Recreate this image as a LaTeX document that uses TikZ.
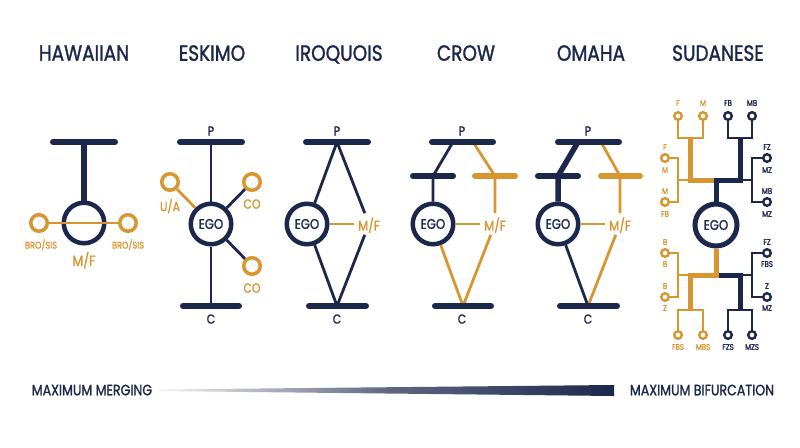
\documentclass[tikz,border=0pt]{standalone}
\usepackage{fontspec}
\setmainfont{Poppins}[FakeStretch=0.84,FakeBold=1.3]
\definecolor{navy}{RGB}{28,39,76}
\definecolor{gold}{RGB}{216,150,48}
\begin{document}
\begin{tikzpicture}[x=1pt,y=-1pt,
  bar/.style={navy,line width=6pt,line cap=round},
  obar/.style={gold,line width=6pt,line cap=round},
  nline/.style={navy,line width=2.8pt},
  oline/.style={gold,line width=2.8pt},
  nthick/.style={navy,line width=5pt},
  othick/.style={gold,line width=5pt},
  nthin/.style={navy,line width=2.5pt},
  othin/.style={gold,line width=2.5pt},
  ego/.style={circle,draw=navy,line width=4.5pt,minimum size=40.5pt,inner sep=0pt,text=navy,font=\fontsize{14}{14}\selectfont,fill=white},
  rel/.style={circle,draw=gold,line width=3.5pt,minimum size=16.5pt,inner sep=0pt,fill=white},
  srel/.style={circle,line width=2.4pt,minimum size=7.6pt,inner sep=0pt,fill=white},
  title/.style={text=navy,font=\fontsize{22}{22}\selectfont,text depth=0pt,inner sep=0pt},
  lab/.style={text=navy,font=\fontsize{13}{13}\selectfont,text depth=0pt,inner sep=0pt},
  olab/.style={text=gold,font=\fontsize{13}{13}\selectfont,text depth=0pt,inner sep=0pt},
  mf/.style={text=gold,font=\fontsize{14}{14}\selectfont,text depth=0pt,inner sep=4pt},
  slab/.style={font=\fontsize{8.3}{8.3}\selectfont,text depth=0pt,inner sep=0pt},
  legend/.style={text=navy,font=\fontsize{15}{15}\selectfont,text depth=0pt,inner sep=0pt},
]
\useasboundingbox (0,0) rectangle (800,447);
\fill[white] (0,0) rectangle (800,447);

% titles
\node[title] (t1) at (84,53) {HAWAIIAN};
\node[title] (t2) at (212,53) {ESKIMO};
\node[title] (t3) at (339,53) {IROQUOIS};
\node[title] (t4) at (466,53) {CROW};
\node[title] (t5) at (591,53) {OMAHA};
\node[title] (t6) at (718,53) {SUDANESE};

% ---------- HAWAIIAN
\coordinate (hb1) at (53,142); \coordinate (hb2) at (115,142); \coordinate (hbm) at (84,142);
\draw[bar] (hb1) -- (hb2);
\node[ego] (h) at (84,223) {};
\draw[navy,line width=5.2pt] (hbm) -- (h.north);
\node[rel] (hl) at (39,223) {};
\node[rel] (hr) at (128,223) {};
\draw[oline] (hl) -- (hr);
\node[olab,font=\fontsize{9.8}{9.8}\selectfont] (hl1) at (41,244) {BRO/SIS};
\node[olab,font=\fontsize{9.8}{9.8}\selectfont] (hl2) at (128,244) {BRO/SIS};
\node[olab,font=\fontsize{15}{15}\selectfont] (hl3) at (84,259) {M/F};

% ---------- ESKIMO
\node[lab] (ep) at (211,131) {P};
\node[lab] (ec) at (211,319) {C};
\coordinate (et1) at (180,142); \coordinate (et2) at (242,142); \coordinate (etm) at (211,142);
\coordinate (eb1) at (183,306); \coordinate (eb2) at (239,306); \coordinate (ebm) at (211,306);
\node[ego] (e) at (211,224) {EGO};
\draw[nline] (etm) -- (e.north);
\draw[nline] (e.south) -- (ebm);
\draw[bar] (et1) -- (et2);
\draw[bar] (eb1) -- (eb2);
\node[rel] (eua) at (170,182) {};
\node[rel] (eco1) at (252,182) {};
\node[rel] (eco2) at (252,266) {};
\draw[oline] (eua) -- (e);
\draw[nline] (eco1) -- (e);
\draw[nline] (eco2) -- (e);
\node[olab] (eual) at (170,205) {U/A};
\node[olab] (eco1l) at (252,204) {CO};
\node[olab] (eco2l) at (252,288) {CO};

% ---------- IROQUOIS
\node[lab] (ip) at (337,131) {P};
\node[lab] (ic) at (337,319) {C};
\coordinate (it1) at (306,142); \coordinate (it2) at (368,142); \coordinate (ita) at (337,142);
\coordinate (ib1) at (309,306); \coordinate (ib2) at (366,306); \coordinate (iba) at (337,306);
\node[ego] (i) at (307,224) {EGO};
\node[mf] (imf) at (369,224) {M/F};
\draw[nline] (ita) -- (i);
\draw[nline] (ita) -- (imf);
\draw[nline] (i) -- (iba);
\draw[nline] (imf) -- (iba);
\draw[oline] (i) -- (imf);
\draw[bar] (it1) -- (it2);
\draw[bar] (ib1) -- (ib2);

% ---------- CROW
\node[lab] (cp) at (462,131) {P};
\node[lab] (cc) at (462,319) {C};
\coordinate (ct1) at (432,142); \coordinate (ct2) at (493,142);
\coordinate (ctl) at (453,142); \coordinate (ctr) at (473,142);
\coordinate (cb1) at (435,306); \coordinate (cb2) at (491,306); \coordinate (cba) at (463,306);
\coordinate (cm1) at (413,176); \coordinate (cm2) at (453,176); \coordinate (cml) at (433,176);
\coordinate (cm3) at (475,176); \coordinate (cm4) at (515,176); \coordinate (cmr) at (495,176);
\node[ego] (c) at (433,224) {EGO};
\node[mf] (cmf) at (495,224) {M/F};
\draw[nline] (ctl) -- (cml) -- (c.north);
\draw[oline] (ctr) -- (cmr) -- (cmf);
\draw[oline] (c) -- (cmf);
\draw[oline] (c) -- (cba);
\draw[oline] (cmf) -- (cba);
\draw[bar] (ct1) -- (ct2);
\draw[bar] (cb1) -- (cb2);
\draw[bar] (cm1) -- (cm2);
\draw[obar] (cm3) -- (cm4);

% ---------- OMAHA
\node[lab] (op) at (588,131) {P};
\node[lab] (oc) at (588,319) {C};
\coordinate (ot1) at (558,142); \coordinate (ot2) at (619,142);
\coordinate (otl) at (578,142); \coordinate (otr) at (601,142);
\coordinate (ob1) at (560,306); \coordinate (ob2) at (617,306); \coordinate (oba) at (588,306);
\coordinate (om1) at (538,176); \coordinate (om2) at (578,176); \coordinate (oml) at (558,176);
\coordinate (om3) at (601,176); \coordinate (om4) at (640,176); \coordinate (omr) at (620,176);
\node[ego] (o) at (558,224) {EGO};
\node[mf] (omf) at (620,224) {M/F};
\draw[navy,line width=5.5pt] (otl) -- (oml) -- (o.north);
\draw[oline] (otr) -- (omr) -- (omf);
\draw[oline] (o) -- (omf);
\draw[nline] (o) -- (oba);
\draw[oline] (omf) -- (oba);
\draw[bar] (ot1) -- (ot2);
\draw[bar] (ob1) -- (ob2);
\draw[bar] (om1) -- (om2);
\draw[obar] (om3) -- (om4);

% ---------- SUDANESE
\node[ego,minimum size=42pt,line width=5pt] (s) at (716,225) {EGO};
% upper
\coordinate (su) at (716,180);
\coordinate (suo) at (690,180); \coordinate (suol) at (678,180);
\coordinate (sun) at (740,180); \coordinate (sunr) at (752,180);
\coordinate (sfm) at (690,138); \coordinate (sbm) at (740,138);
\node[srel,draw=gold] (sf) at (678,116) {};
\node[srel,draw=gold] (sm) at (703,116) {};
\node[srel,draw=navy] (sfb) at (728,116) {};
\node[srel,draw=navy] (smb) at (752,116) {};
\node[srel,draw=gold] (sl1) at (665,158) {};
\node[srel,draw=gold] (sl2) at (665,202) {};
\node[srel,draw=navy] (sr1) at (767,158) {};
\node[srel,draw=navy] (sr2) at (767,202) {};
\draw[othin] (sf) |- (sfm) -| (sm);
\draw[othin] (sl1) -| (suol) |- (sl2);
\draw[othin] (suol) -- (suo);
\draw[othick] (sfm) -- (suo) -- (su);
\draw[nthin] (sfb) |- (sbm) -| (smb);
\draw[nthin] (sr1) -| (sunr) |- (sr2);
\draw[nthin] (sun) -- (sunr);
\draw[nthick] (s.north) -- (su) -- (sun) -- (sbm);
% lower
\coordinate (sd) at (716,275);
\coordinate (sdo) at (690,275); \coordinate (sdol) at (678,275);
\coordinate (sdn) at (740,275); \coordinate (sdnr) at (752,275);
\coordinate (sdom) at (690,310); \coordinate (sdnm) at (740,310);
\node[srel,draw=gold] (sl3) at (665,253) {};
\node[srel,draw=gold] (sl4) at (665,297) {};
\node[srel,draw=navy] (sr3) at (767,253) {};
\node[srel,draw=navy] (sr4) at (767,297) {};
\node[srel,draw=gold] (sfbs) at (678,335) {};
\node[srel,draw=gold] (smbs) at (703,335) {};
\node[srel,draw=navy] (sfzs) at (728,335) {};
\node[srel,draw=navy] (smzs) at (752,335) {};
\draw[othin] (sl3) -| (sdol) |- (sl4);
\draw[othin] (sdol) -- (sdo);
\draw[othin] (sfbs) |- (sdom) -| (smbs);
\draw[nthin] (sr3) -| (sdnr) |- (sr4);
\draw[nthin] (sdn) -- (sdnr);
\draw[nthin] (sfzs) |- (sdnm) -| (smzs);
\draw[nthick] (sd) -- (sdn) -- (sdnm);
\draw[othick] (s.south) -- (sd) -- (sdo) -- (sdom);
% labels
\foreach \t/\x/\y/\c [count=\k] in {F/678/103/gold, M/703/103/gold, FB/728/103/navy, MB/752/103/navy,
  F/665/147/gold, M/665/170/gold, M/665/191/gold, FB/665/214/gold,
  FZ/767/147/navy, MZ/767/170/navy, MB/767/191/navy, MZ/767/214/navy,
  B/665/242/gold, B/665/264/gold, B/665/286/gold, Z/665/308/gold,
  FZ/767/242/navy, FBS/767/264/navy, Z/767/286/navy, MZ/767/308/navy,
  FBS/678/347/gold, MBS/703/347/gold, FZS/728/347/navy, MZS/752/347/navy}
  \node[slab,text=\c] (sl-\k) at (\x,\y) {\t};

% ---------- bottom scale
\node[legend] (lm) at (92,390) {MAXIMUM MERGING};
\node[legend] (lb) at (702,390) {MAXIMUM BIFURCATION};
\coordinate (w1) at (158,389.5); \coordinate (w2) at (614,385);
\coordinate (w3) at (614,396); \coordinate (w4) at (158,391);
\shade[left color=navy!5, right color=navy, middle color=navy!70] (w1) -- (w2) -- (w3) -- (w4) -- cycle;
\end{tikzpicture}
\end{document}
